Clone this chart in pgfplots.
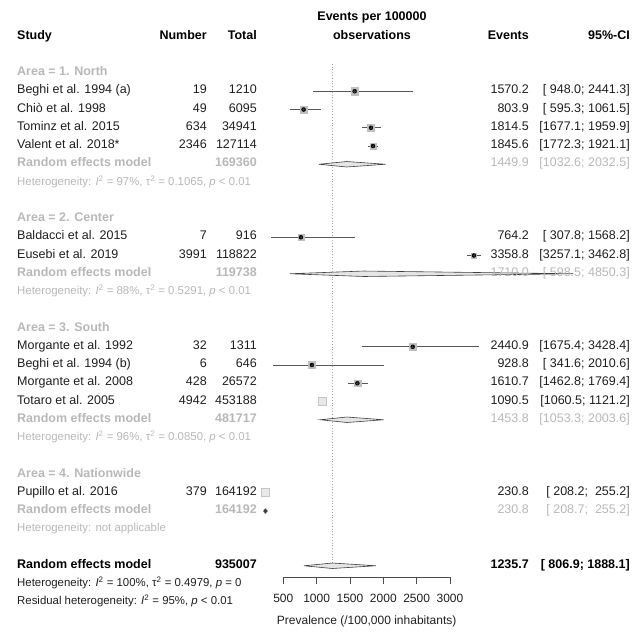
\documentclass[border=0pt]{standalone}
\usepackage{pgfplots}
\pgfplotsset{compat=1.18}
\usepackage{pgfplotstable}
\usepackage{fontspec}
\setmainfont{Liberation Sans}
\definecolor{tgray}{gray}{0.72}
\definecolor{tdark}{gray}{0.12}
\definecolor{sqgray}{gray}{0.75}
\definecolor{cigray}{gray}{0.35}

% row = line number (18.25 px per line), est/lo/hi per 100000, sz = half side of square
\pgfplotstableread{
row est lo hi sz
5 1570.2 948.0 2441.3 3.6
6 803.9 595.3 1061.5 3.6
7 1814.5 1677.1 1959.9 3.4
8 1845.6 1772.3 1921.1 3.0
13 764.2 307.8 1568.2 3.0
14 3358.8 3257.1 3462.8 2.4
19 2440.9 1675.4 3428.4 3.6
20 928.8 341.6 2010.6 3.4
21 1610.7 1462.8 1769.4 3.4
}\studies
\pgfplotstableread{
row est lo hi sz
22 1090.5 1060.5 1121.2 3.8
27 230.8 208.2 255.2 3.8
}\bigstudies

\newcommand\mainfont{\fontsize{12.5}{14}\selectfont}
\newcommand\smallfont{\fontsize{11.4}{13}\selectfont}
\tikzset{
  lt/.style={anchor=mid west, inner sep=0pt},
  rt/.style={anchor=mid east, inner sep=0pt},
  ct/.style={anchor=mid, inner sep=0pt},
}

\begin{document}
\begin{tikzpicture}
\useasboundingbox (0,0) rectangle (640pt,-640pt);
\begin{axis}[
  at={(0pt,0pt)}, anchor=north west,
  scale only axis, width=640pt, height=640pt,
  xmin=-3750, xmax=5850, ymin=0, ymax=35.0685,
  y dir=reverse, hide axis, clip=false,
]
% reference line (overall estimate)
\addplot[draw=gray!70, line width=0.8pt, dotted] coordinates {(1235.7,3.5) (1235.7,31.2)};
% study squares
\addplot[scatter, only marks, mark=square*,
  scatter/use mapped color={draw=sqgray, fill=sqgray},
  visualization depends on={\thisrow{sz}\as\msz},
  scatter/@pre marker code/.append style={/tikz/mark size=\msz pt}]
  table[x=est, y=row] {\studies};
\addplot[scatter, only marks, mark=square*,
  scatter/use mapped color={draw=gray!45, fill=gray!18, line width=1pt},
  visualization depends on={\thisrow{sz}\as\msz},
  scatter/@pre marker code/.append style={/tikz/mark size=\msz pt}]
  table[x=est, y=row] {\bigstudies};
% confidence intervals
\addplot[only marks, mark=none,
  error bars/.cd, x dir=both, x explicit, error mark=none,
  error bar style={line width=0.8pt, draw=cigray}]
  table[x=est, y=row, x error plus expr=\thisrow{hi}-\thisrow{est},
        x error minus expr=\thisrow{est}-\thisrow{lo}] {\studies};
\addplot[only marks, mark=+, mark size=1.3pt, mark options={black!80, line width=0.5pt}]
  table[x=est, y=row] {\studies};
% random effects diamonds
\addplot[draw=black!75, fill=gray!20, line width=0.6pt] coordinates {(1032.6,9) (1449.9,8.85) (2032.5,9) (1449.9,9.15)} -- cycle;
\addplot[draw=black!75, fill=gray!20, line width=0.6pt] coordinates {(598.5,15) (1710.0,14.85) (4850.3,15) (1710.0,15.15)} -- cycle;
\addplot[draw=black!75, fill=gray!20, line width=0.6pt] coordinates {(1053.3,23) (1453.8,22.85) (2003.6,23) (1453.8,23.15)} -- cycle;
\addplot[draw=black!75, fill=black!75, line width=1.2pt] coordinates {(208.7,28) (230.8,27.9) (255.2,28) (230.8,28.1)} -- cycle;
\addplot[draw=black!75, fill=gray!20, line width=0.6pt] coordinates {(806.9,31) (1235.7,30.85) (1888.1,31) (1235.7,31.15)} -- cycle;
\end{axis}

% bottom axis
\begin{axis}[
  at={(283.333pt,-577pt)}, anchor=south west,
  scale only axis, width=166.667pt, height=10pt,
  xmin=500, xmax=3000, ymin=0, ymax=1,
  axis x line*=bottom, axis y line=none,
  xtick={500,1000,1500,2000,2500,3000},
  tick align=outside, major tick length=6.5pt,
  /pgf/number format/assume math mode=true,
  /pgf/number format/1000 sep={},
  xticklabel style={font=\fontsize{12}{14}\selectfont, text=tdark, inner sep=2pt, yshift=-8pt},
  xlabel={Prevalence (/100,000 inhabitants)},
  xlabel style={font=\fontsize{12}{14}\selectfont, text=tdark, yshift=-8pt},
  axis line style={black!70, line width=0.9pt},
  tick style={black!70, line width=0.9pt},
]
\addplot[draw=none] coordinates {(500,0) (3000,0)};
\end{axis}

\begin{scope}[x=1pt, y=-18.25pt]
% header
\node[lt, font=\mainfont\bfseries] at (17,2) {Study};
\node[rt, font=\mainfont\bfseries] at (207,2) {Number};
\node[rt, font=\mainfont\bfseries] at (257,2) {Total};
\node[ct, font=\mainfont\bfseries] at (372,1) {Events per 100000};
\node[ct, font=\mainfont\bfseries] at (372,2) {observations};
\node[rt, font=\mainfont\bfseries] at (529,2) {Events};
\node[rt, font=\mainfont\bfseries] at (630,2) {95\%-CI};

% Area 1
\node[lt, font=\mainfont\bfseries, text=tgray] at (17,4) {Area = 1. North};
\node[lt, font=\mainfont, text=tdark] at (17,5) {Beghi et al. 1994 (a)};
\node[rt, font=\mainfont, text=tdark] at (207,5) {19};
\node[rt, font=\mainfont, text=tdark] at (257,5) {1210};
\node[rt, font=\mainfont, text=tdark] at (529,5) {1570.2};
\node[rt, font=\mainfont, text=tdark] at (630,5) {[ 948.0; 2441.3]};
\node[lt, font=\mainfont, text=tdark] at (17,6) {Chiò et al. 1998};
\node[rt, font=\mainfont, text=tdark] at (207,6) {49};
\node[rt, font=\mainfont, text=tdark] at (257,6) {6095};
\node[rt, font=\mainfont, text=tdark] at (529,6) {803.9};
\node[rt, font=\mainfont, text=tdark] at (630,6) {[ 595.3; 1061.5]};
\node[lt, font=\mainfont, text=tdark] at (17,7) {Tominz et al. 2015};
\node[rt, font=\mainfont, text=tdark] at (207,7) {634};
\node[rt, font=\mainfont, text=tdark] at (257,7) {34941};
\node[rt, font=\mainfont, text=tdark] at (529,7) {1814.5};
\node[rt, font=\mainfont, text=tdark] at (630,7) {[1677.1; 1959.9]};
\node[lt, font=\mainfont, text=tdark] at (17,8) {Valent et al. 2018*};
\node[rt, font=\mainfont, text=tdark] at (207,8) {2346};
\node[rt, font=\mainfont, text=tdark] at (257,8) {127114};
\node[rt, font=\mainfont, text=tdark] at (529,8) {1845.6};
\node[rt, font=\mainfont, text=tdark] at (630,8) {[1772.3; 1921.1]};
\node[lt, font=\mainfont\bfseries, text=tgray] at (17,9) {Random effects model};
\node[rt, font=\mainfont\bfseries, text=tgray] at (257,9) {169360};
\node[rt, font=\mainfont, text=tgray] at (529,9) {1449.9};
\node[rt, font=\mainfont, text=tgray] at (630,9) {[1032.6; 2032.5]};
\node[lt, font=\smallfont, text=tgray] at (17,10) {Heterogeneity: \textit{I}\textsuperscript{2} = 97\%, τ\textsuperscript{2} = 0.1065, \textit{p} < 0.01};

% Area 2
\node[lt, font=\mainfont\bfseries, text=tgray] at (17,12) {Area = 2. Center};
\node[lt, font=\mainfont, text=tdark] at (17,13) {Baldacci et al. 2015};
\node[rt, font=\mainfont, text=tdark] at (207,13) {7};
\node[rt, font=\mainfont, text=tdark] at (257,13) {916};
\node[rt, font=\mainfont, text=tdark] at (529,13) {764.2};
\node[rt, font=\mainfont, text=tdark] at (630,13) {[ 307.8; 1568.2]};
\node[lt, font=\mainfont, text=tdark] at (17,14) {Eusebi et al. 2019};
\node[rt, font=\mainfont, text=tdark] at (207,14) {3991};
\node[rt, font=\mainfont, text=tdark] at (257,14) {118822};
\node[rt, font=\mainfont, text=tdark] at (529,14) {3358.8};
\node[rt, font=\mainfont, text=tdark] at (630,14) {[3257.1; 3462.8]};
\node[lt, font=\mainfont\bfseries, text=tgray] at (17,15) {Random effects model};
\node[rt, font=\mainfont\bfseries, text=tgray] at (257,15) {119738};
\node[rt, font=\mainfont, text=tgray] at (529,15) {1710.0};
\node[rt, font=\mainfont, text=tgray] at (630,15) {[ 598.5; 4850.3]};
\node[lt, font=\smallfont, text=tgray] at (17,16) {Heterogeneity: \textit{I}\textsuperscript{2} = 88\%, τ\textsuperscript{2} = 0.5291, \textit{p} < 0.01};

% Area 3
\node[lt, font=\mainfont\bfseries, text=tgray] at (17,18) {Area = 3. South};
\node[lt, font=\mainfont, text=tdark] at (17,19) {Morgante et al. 1992};
\node[rt, font=\mainfont, text=tdark] at (207,19) {32};
\node[rt, font=\mainfont, text=tdark] at (257,19) {1311};
\node[rt, font=\mainfont, text=tdark] at (529,19) {2440.9};
\node[rt, font=\mainfont, text=tdark] at (630,19) {[1675.4; 3428.4]};
\node[lt, font=\mainfont, text=tdark] at (17,20) {Beghi et al. 1994 (b)};
\node[rt, font=\mainfont, text=tdark] at (207,20) {6};
\node[rt, font=\mainfont, text=tdark] at (257,20) {646};
\node[rt, font=\mainfont, text=tdark] at (529,20) {928.8};
\node[rt, font=\mainfont, text=tdark] at (630,20) {[ 341.6; 2010.6]};
\node[lt, font=\mainfont, text=tdark] at (17,21) {Morgante et al. 2008};
\node[rt, font=\mainfont, text=tdark] at (207,21) {428};
\node[rt, font=\mainfont, text=tdark] at (257,21) {26572};
\node[rt, font=\mainfont, text=tdark] at (529,21) {1610.7};
\node[rt, font=\mainfont, text=tdark] at (630,21) {[1462.8; 1769.4]};
\node[lt, font=\mainfont, text=tdark] at (17,22) {Totaro et al. 2005};
\node[rt, font=\mainfont, text=tdark] at (207,22) {4942};
\node[rt, font=\mainfont, text=tdark] at (257,22) {453188};
\node[rt, font=\mainfont, text=tdark] at (529,22) {1090.5};
\node[rt, font=\mainfont, text=tdark] at (630,22) {[1060.5; 1121.2]};
\node[lt, font=\mainfont\bfseries, text=tgray] at (17,23) {Random effects model};
\node[rt, font=\mainfont\bfseries, text=tgray] at (257,23) {481717};
\node[rt, font=\mainfont, text=tgray] at (529,23) {1453.8};
\node[rt, font=\mainfont, text=tgray] at (630,23) {[1053.3; 2003.6]};
\node[lt, font=\smallfont, text=tgray] at (17,24) {Heterogeneity: \textit{I}\textsuperscript{2} = 96\%, τ\textsuperscript{2} = 0.0850, \textit{p} < 0.01};

% Area 4
\node[lt, font=\mainfont\bfseries, text=tgray] at (17,26) {Area = 4. Nationwide};
\node[lt, font=\mainfont, text=tdark] at (17,27) {Pupillo et al. 2016};
\node[rt, font=\mainfont, text=tdark] at (207,27) {379};
\node[rt, font=\mainfont, text=tdark] at (257,27) {164192};
\node[rt, font=\mainfont, text=tdark] at (529,27) {230.8};
\node[rt, font=\mainfont, text=tdark] at (630,27) {[ 208.2;\ \ 255.2]};
\node[lt, font=\mainfont\bfseries, text=tgray] at (17,28) {Random effects model};
\node[rt, font=\mainfont\bfseries, text=tgray] at (257,28) {164192};
\node[rt, font=\mainfont, text=tgray] at (529,28) {230.8};
\node[rt, font=\mainfont, text=tgray] at (630,28) {[ 208.7;\ \ 255.2]};
\node[lt, font=\smallfont, text=tgray] at (17,29) {Heterogeneity: not applicable};

% Overall
\node[lt, font=\mainfont\bfseries, text=black] at (17,31) {Random effects model};
\node[rt, font=\mainfont\bfseries, text=black] at (257,31) {935007};
\node[rt, font=\mainfont\bfseries, text=black] at (529,31) {1235.7};
\node[rt, font=\mainfont\bfseries, text=black] at (630,31) {[ 806.9; 1888.1]};
\node[lt, font=\smallfont, text=tdark] at (17,32) {Heterogeneity: \textit{I}\textsuperscript{2} = 100\%, τ\textsuperscript{2} = 0.4979, \textit{p} = 0};
\node[lt, font=\smallfont, text=tdark] at (17,33) {Residual heterogeneity: \textit{I}\textsuperscript{2} = 95\%, \textit{p} < 0.01};
\end{scope}
\end{tikzpicture}
\end{document}
